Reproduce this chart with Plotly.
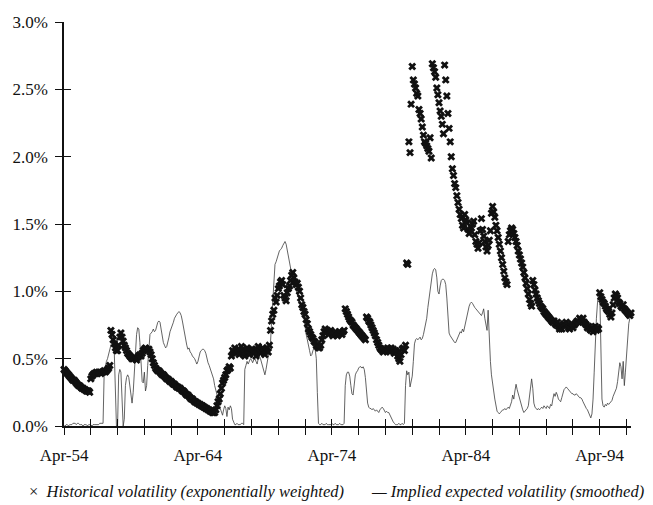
import pandas as pd
import plotly.graph_objects as go

# Historical volatility (exponentially weighted), monthly, % per month
HIST_1954_1964 = [
    0.42, 0.41, 0.40, 0.39, 0.38, 0.37, 0.36, 0.35, 0.34, 0.34, 0.33, 0.32,
    0.31, 0.30, 0.30, 0.29, 0.28, 0.28, 0.27, 0.27, 0.26, 0.26, 0.26, 0.25,
    0.35, 0.37, 0.38, 0.39, 0.39, 0.40, 0.39, 0.40, 0.40, 0.39, 0.40, 0.40,
    0.41, 0.40, 0.41, 0.42, 0.43, 0.45, 0.71, 0.68, 0.64, 0.61, 0.58, 0.56,
    0.56, 0.60, 0.66, 0.69, 0.66, 0.63, 0.60, 0.58, 0.56, 0.54, 0.53, 0.52,
    0.51, 0.50, 0.50, 0.51, 0.50, 0.49, 0.51, 0.52, 0.53, 0.52, 0.54, 0.56,
    0.57, 0.58, 0.57, 0.56, 0.57, 0.55, 0.53, 0.50, 0.47, 0.45, 0.43, 0.42,
    0.41, 0.41, 0.40, 0.39, 0.38, 0.38, 0.37, 0.36, 0.35, 0.35, 0.34, 0.33,
    0.33, 0.32, 0.31, 0.31, 0.30, 0.29, 0.29, 0.28, 0.28, 0.27, 0.26, 0.26,
    0.25, 0.24, 0.23, 0.23, 0.22, 0.21, 0.20, 0.20, 0.19, 0.18, 0.18, 0.17,
]
HIST_1964_1974 = [
    0.17, 0.16, 0.16, 0.15, 0.15, 0.14, 0.14, 0.13, 0.13, 0.12, 0.12, 0.11,
    0.11, 0.10, 0.10, 0.10, 0.12, 0.15, 0.18, 0.20, 0.24, 0.28, 0.32, 0.34,
    0.36, 0.38, 0.41, 0.42, 0.44, 0.43, 0.52, 0.56, 0.55, 0.58, 0.54, 0.56,
    0.57, 0.53, 0.55, 0.59, 0.56, 0.54, 0.52, 0.55, 0.58, 0.56, 0.53, 0.55, 0.57,
    0.57, 0.54, 0.56, 0.52, 0.55, 0.59, 0.57, 0.54, 0.56, 0.58, 0.55, 0.53,
    0.56, 0.58, 0.55, 0.60, 0.71, 0.78, 0.83, 0.86, 0.95, 0.92, 0.97, 1.02,
    1.04, 1.07, 1.08, 1.05, 0.97, 0.95, 0.93, 0.99, 1.02, 1.04, 1.08, 1.12,
    1.14, 1.10, 1.07, 1.05, 1.06, 1.03, 1.00, 0.95, 0.90, 0.88, 0.85, 0.83,
    0.79, 0.76, 0.72, 0.70, 0.68, 0.66, 0.65, 0.63, 0.62, 0.60, 0.59, 0.58,
    0.58, 0.60, 0.64, 0.67, 0.70, 0.72, 0.70, 0.71, 0.68, 0.69, 0.71, 0.69,
]
HIST_1974_1984 = [
    0.67, 0.68, 0.70, 0.69, 0.67, 0.68, 0.70, 0.69, 0.68, 0.70, 0.71, 0.87,
    0.85, 0.83, 0.81, 0.79, 0.78, 0.77, 0.75, 0.74, 0.73, 0.72, 0.71, 0.70,
    0.69, 0.68, 0.67, 0.66, 0.65, 0.64, 0.81, 0.80, 0.78, 0.77, 0.75, 0.73,
    0.71, 0.69, 0.67, 0.64, 0.62, 0.60, 0.58, 0.57, 0.56, 0.55, 0.56, 0.57,
    0.56, 0.58, 0.57, 0.55, 0.58, 0.56, 0.57, 0.54, 0.56, 0.55, 0.52, 0.50, 0.48,
    0.53, 0.57, 0.58, 0.56, 0.60, 1.21, 1.20, 2.11, 2.03, 2.39, 2.67, 2.57,
    2.54, 2.51, 2.47, 2.45, 2.35, 2.32, 2.28, 2.22, 2.16, 2.11, 2.10, 2.08,
    2.06, 2.04, 2.14, 1.99, 2.69, 2.66, 2.63, 2.59, 2.51, 2.46, 2.40, 2.34,
    2.30, 2.24, 2.17, 2.68, 2.57, 2.45, 2.32, 2.21, 2.11, 2.00, 1.91, 1.86,
    1.80, 1.77, 1.71, 1.66, 1.61, 1.57, 1.54, 1.49, 1.47, 1.57, 1.53, 1.51,
]
HIST_1984_1996 = [
    1.46, 1.43, 1.45, 1.47, 1.50, 1.52, 1.42, 1.37, 1.35, 1.32, 1.36, 1.45,
    1.54, 1.46, 1.41, 1.37, 1.33, 1.30, 1.34, 1.38, 1.45, 1.58, 1.63, 1.59,
    1.55, 1.49, 1.45, 1.40, 1.35, 1.30, 1.25, 1.20, 1.15, 1.10, 1.07, 1.05,
    1.37, 1.42, 1.45, 1.47, 1.46, 1.43, 1.40, 1.37, 1.34, 1.30, 1.27, 1.24,
    1.21, 1.18, 1.14, 1.10, 1.06, 1.02, 0.98, 0.94, 0.91, 0.89, 1.08, 1.05,
    1.01, 0.98, 0.95, 0.93, 0.91, 0.89, 0.88, 0.87, 0.85, 0.84, 0.83, 0.82,
    0.81, 0.80, 0.79, 0.78, 0.77, 0.78, 0.76, 0.75, 0.77, 0.74, 0.72, 0.73,
    0.72, 0.75, 0.76, 0.74, 0.77, 0.75, 0.73, 0.72, 0.74, 0.76, 0.73, 0.75, 0.76,
    0.77, 0.78, 0.77, 0.80, 0.79, 0.78, 0.80, 0.77, 0.76, 0.75, 0.73, 0.74,
    0.72, 0.71, 0.73, 0.70, 0.72, 0.74, 0.71, 0.73, 0.72, 0.99, 0.96, 0.94,
    0.92, 0.91, 0.89, 0.87, 0.86, 0.85, 0.83, 0.81, 0.84, 0.90, 0.95, 0.98,
    0.97, 0.95, 0.92, 0.91, 0.89, 0.88, 0.90, 0.87, 0.86, 0.85, 0.84, 0.83,
    0.82, 0.84, 0.81,
]

# Implied expected volatility (smoothed), monthly, % per month
IMPL_1954_1964 = [
    0.00, 0.00, 0.01, 0.01, 0.00, 0.01, 0.01, 0.01, 0.02, 0.02, 0.02, 0.01,
    0.02, 0.02, 0.01, 0.01, 0.01, 0.00, 0.01, 0.01, 0.01, 0.00, 0.01, 0.01,
    0.01, 0.00, 0.01, 0.01, 0.01, 0.01, 0.01, 0.01, 0.02, 0.02, 0.02, 0.02,
    0.40, 0.45, 0.48, 0.50, 0.54, 0.58, 0.60, 0.62, 0.60, 0.55, 0.30, 0.00,
    0.00, 0.38, 0.42, 0.40, 0.20, 0.00, 0.05, 0.30, 0.36, 0.38, 0.36, 0.30,
    0.22, 0.17, 0.25, 0.40, 0.55, 0.68, 0.73, 0.72, 0.62, 0.45, 0.33, 0.32,
    0.40, 0.26, 0.30, 0.45, 0.62, 0.68, 0.69, 0.70, 0.72, 0.70, 0.71, 0.74,
    0.77, 0.78, 0.77, 0.72, 0.66, 0.62, 0.60, 0.58, 0.59, 0.62, 0.66, 0.70,
    0.72, 0.74, 0.77, 0.80, 0.82, 0.83, 0.84, 0.85, 0.84, 0.82, 0.78, 0.73,
    0.68, 0.65, 0.60, 0.57, 0.58, 0.55, 0.54, 0.52, 0.51, 0.50, 0.48, 0.46,
]
IMPL_1964_1974 = [
    0.48, 0.52, 0.55, 0.56, 0.57, 0.57, 0.56, 0.54, 0.50, 0.47, 0.45, 0.43,
    0.40, 0.38, 0.35, 0.30, 0.27, 0.23, 0.20, 0.17, 0.13, 0.10, 0.08, 0.12,
    0.15, 0.13, 0.07, 0.14, 0.12, 0.15, 0.13, 0.05, 0.02, 0.01, 0.01, 0.02,
    0.01, 0.01, 0.01, 0.02, 0.02, 0.01, 0.42, 0.45, 0.48, 0.46, 0.48, 0.50, 0.49,
    0.47, 0.49, 0.50, 0.48, 0.46, 0.50, 0.52, 0.50, 0.47, 0.43, 0.40, 0.38,
    0.42, 0.47, 0.50, 0.55, 0.62, 0.78, 0.95, 1.10, 1.20, 1.22, 1.25, 1.28,
    1.30, 1.31, 1.32, 1.34, 1.36, 1.37, 1.35, 1.31, 1.27, 1.23, 1.18, 1.13,
    1.08, 1.05, 1.02, 1.00, 0.98, 0.96, 0.93, 0.90, 0.88, 0.86, 0.80, 0.72,
    0.68, 0.64, 0.61, 0.56, 0.52, 0.53, 0.56, 0.58, 0.57, 0.50, 0.25, 0.02,
    0.01, 0.01, 0.02, 0.01, 0.01, 0.01, 0.02, 0.01, 0.01, 0.01, 0.01, 0.02,
]
IMPL_1974_1984 = [
    0.01, 0.01, 0.02, 0.01, 0.01, 0.01, 0.02, 0.01, 0.01, 0.01, 0.02, 0.30,
    0.38, 0.40, 0.40, 0.37, 0.30, 0.24, 0.23, 0.30, 0.38, 0.40, 0.41, 0.43,
    0.44, 0.44, 0.43, 0.44, 0.42, 0.36, 0.25, 0.17, 0.14, 0.13, 0.13, 0.12,
    0.13, 0.12, 0.11, 0.12, 0.11, 0.10, 0.12, 0.13, 0.14, 0.13, 0.11, 0.10,
    0.11, 0.10, 0.10, 0.08, 0.07, 0.05, 0.03, 0.02, 0.01, 0.01, 0.01, 0.02, 0.01,
    0.01, 0.02, 0.01, 0.02, 0.30, 0.41, 0.38, 0.40, 0.29, 0.33, 0.37, 0.48,
    0.61, 0.64, 0.65, 0.64, 0.65, 0.66, 0.64, 0.65, 0.68, 0.72, 0.75, 0.80,
    0.88, 0.95, 1.03, 1.08, 1.13, 1.16, 1.17, 1.16, 1.10, 1.00, 0.98, 1.04,
    1.08, 1.09, 1.09, 1.08, 1.05, 0.95, 0.78, 0.69, 0.67, 0.66, 0.65, 0.63,
    0.62, 0.62, 0.64, 0.66, 0.68, 0.70, 0.69, 0.72, 0.70, 0.74, 0.78, 0.83,
]
IMPL_1984_1996 = [
    0.87, 0.89, 0.91, 0.92, 0.91, 0.89, 0.88, 0.87, 0.86, 0.85, 0.84, 0.83,
    0.82, 0.84, 0.87, 0.80, 0.74, 0.71, 0.86, 0.60, 0.48, 0.38, 0.30, 0.26,
    0.20, 0.14, 0.11, 0.10, 0.09, 0.10, 0.11, 0.12, 0.12, 0.13, 0.12, 0.13,
    0.14, 0.13, 0.15, 0.18, 0.23, 0.20, 0.26, 0.31, 0.27, 0.24, 0.22, 0.18,
    0.14, 0.12, 0.10, 0.11, 0.12, 0.13, 0.15, 0.22, 0.30, 0.35, 0.28, 0.17,
    0.14, 0.13, 0.12, 0.13, 0.12, 0.13, 0.14, 0.13, 0.15, 0.14, 0.13, 0.15,
    0.14, 0.13, 0.16, 0.15, 0.20, 0.24, 0.22, 0.25, 0.23, 0.20, 0.19, 0.18,
    0.21, 0.24, 0.27, 0.28, 0.29, 0.28, 0.27, 0.26, 0.25, 0.24, 0.24, 0.23, 0.23,
    0.24, 0.23, 0.22, 0.21, 0.21, 0.20, 0.18, 0.16, 0.15, 0.13, 0.12, 0.10,
    0.08, 0.06, 0.09, 0.20, 0.40, 0.62, 0.80, 0.92, 0.98, 1.00, 0.70, 0.20,
    0.15, 0.14, 0.16, 0.15, 0.17, 0.16, 0.17, 0.18, 0.19, 0.22, 0.24, 0.25,
    0.28, 0.33, 0.40, 0.47, 0.44, 0.35, 0.48, 0.30, 0.40, 0.55, 0.68, 0.76,
    0.80, 0.82, 0.83,
]

Y_TICKS = [0.0, 0.5, 1.0, 1.5, 2.0, 2.5, 3.0]
Y_LABELS = ["0.0%", "0.5%", "1.0%", "1.5%", "2.0%", "2.5%", "3.0%"]
X_TICK_YEARS = list(range(1954, 1997, 2))
X_LABELS = {1954: "Apr-54", 1964: "Apr-64", 1974: "Apr-74", 1984: "Apr-84", 1994: "Apr-94"}

hist = HIST_1954_1964 + HIST_1964_1974 + HIST_1974_1984 + HIST_1984_1996
impl = IMPL_1954_1964 + IMPL_1964_1974 + IMPL_1974_1984 + IMPL_1984_1996
n = min(len(hist), len(impl))
months = pd.date_range("1954-04-01", periods=n, freq="MS")

tickvals = [f"{yr}-04-01" for yr in X_TICK_YEARS]
ticktext = [X_LABELS.get(yr, "") for yr in X_TICK_YEARS]
x_range = ["1954-04-01", "1996-08-01"]

SERIF = "Liberation Serif, Times New Roman, serif"
INK = "#111111"

fig = go.Figure()
fig.add_trace(go.Scatter(
    x=months, y=impl[:n], mode="lines",
    line=dict(color="#3c3c3c", width=0.8),
    showlegend=False, hoverinfo="skip",
))
fig.add_trace(go.Scatter(
    x=months, y=hist[:n], mode="markers",
    marker=dict(symbol="x", size=7, color=INK, line=dict(width=0)),
    cliponaxis=False, showlegend=False,
))
# empty trace carrying the inward half of the crossing tick marks
fig.add_trace(go.Scatter(
    x=[months[0]], y=[None], xaxis="x2", yaxis="y2",
    mode="markers", showlegend=False, hoverinfo="skip",
))

axis_common = dict(showgrid=False, zeroline=False, tickcolor=INK, tickwidth=1.2, ticklen=7)

fig.update_layout(
    width=653, height=505,
    margin=dict(l=60, r=22, t=22, b=79),
    paper_bgcolor="white", plot_bgcolor="white",
    font=dict(family=SERIF, color=INK),
    xaxis=dict(
        type="date", range=x_range, tickmode="array",
        tickvals=tickvals, ticktext=ticktext, ticks="outside",
        showline=True, linecolor=INK, linewidth=2,
        tickfont=dict(family=SERIF, size=17, color=INK),
        ticklabelstandoff=6, **axis_common,
    ),
    yaxis=dict(
        range=[0, 3.0], tickmode="array", tickvals=Y_TICKS, ticktext=Y_LABELS,
        ticks="outside", showline=True, linecolor=INK, linewidth=1.5,
        tickfont=dict(family=SERIF, size=17, color=INK),
        ticklabelstandoff=4, **axis_common,
    ),
    xaxis2=dict(
        type="date", range=x_range, overlaying="x", anchor="y",
        tickmode="array", tickvals=tickvals, ticks="inside",
        showticklabels=False, showline=False, **axis_common,
    ),
    yaxis2=dict(
        range=[0, 3.0], overlaying="y", anchor="x",
        tickmode="array", tickvals=Y_TICKS, ticks="inside",
        showticklabels=False, showline=False, **axis_common,
    ),
)

fig.add_annotation(
    xref="paper", yref="paper", x=-0.066, y=-0.163, xanchor="left", yanchor="middle",
    text="×  <i>Historical volatility (exponentially weighted)</i>",
    showarrow=False, font=dict(family=SERIF, size=16.5, color=INK),
)
fig.add_annotation(
    xref="paper", yref="paper", x=0.538, y=-0.163, xanchor="left", yanchor="middle",
    text="<i>— Implied expected volatility (smoothed)</i>",
    showarrow=False, font=dict(family=SERIF, size=16.5, color=INK),
)

fig.write_html("out.html")
